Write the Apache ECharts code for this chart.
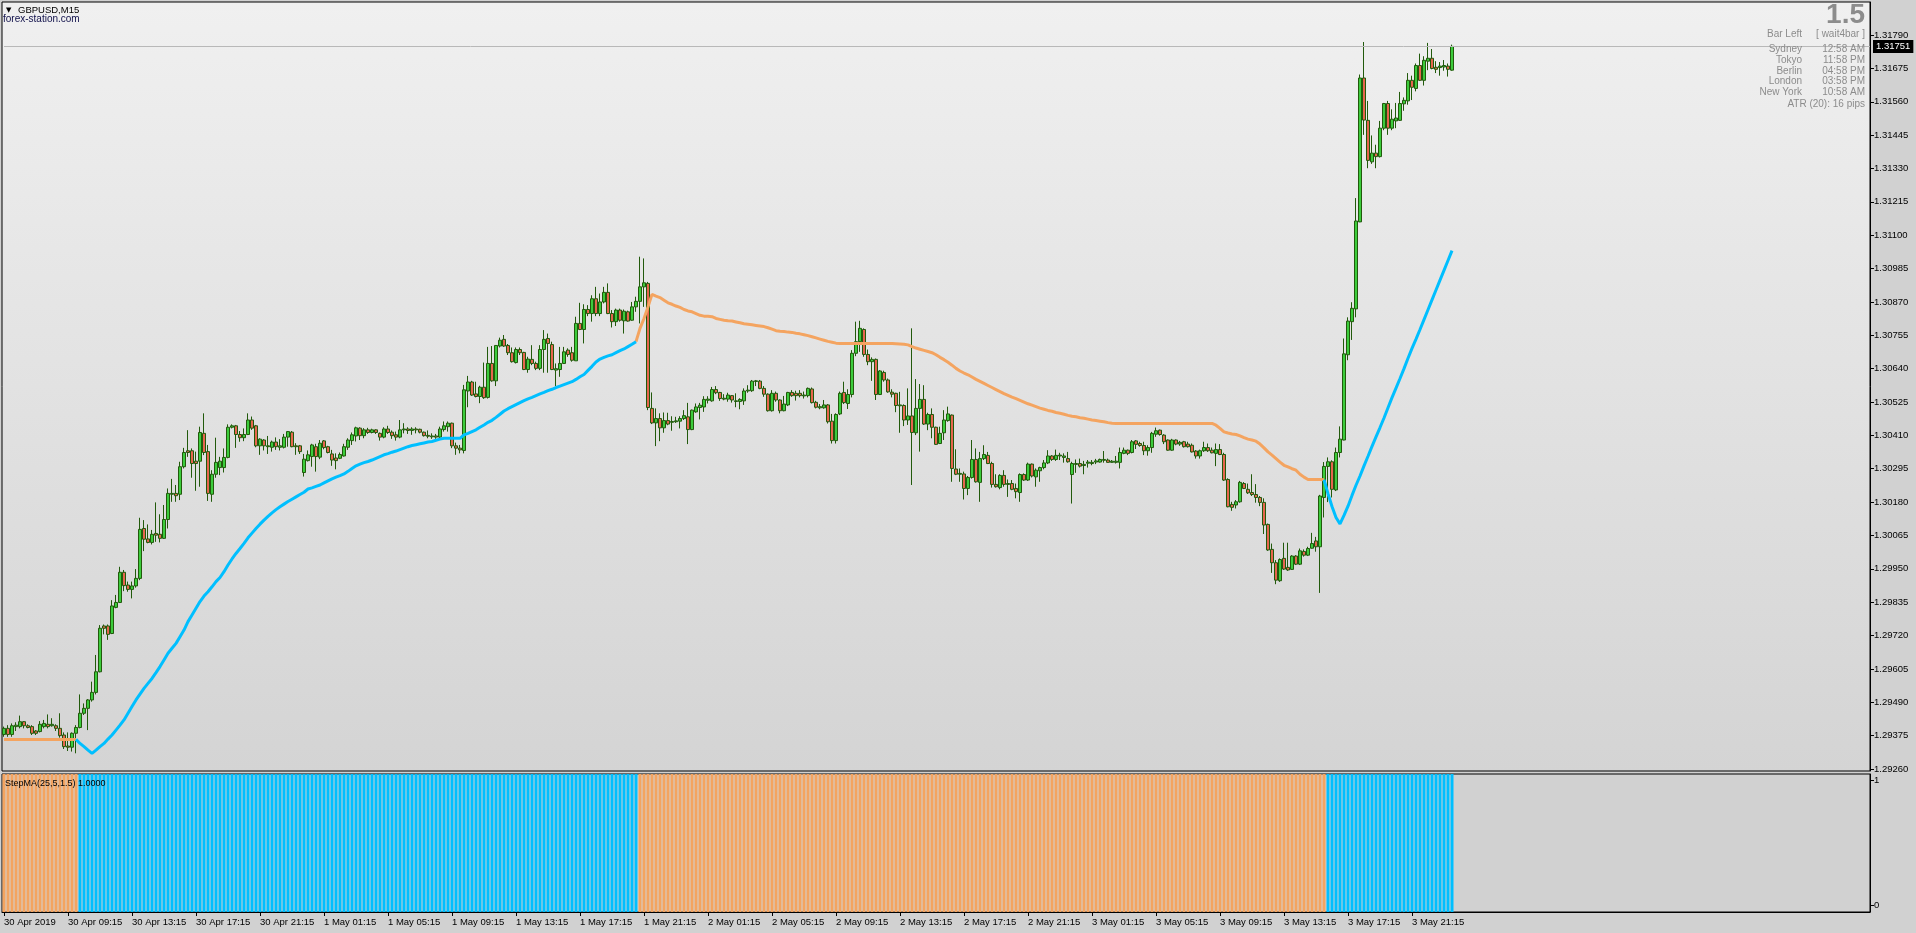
<!DOCTYPE html>
<html>
<head>
<meta charset="utf-8">
<title>GBPUSD,M15</title>
<script src="https://cdn.jsdelivr.net/npm/echarts@6/dist/echarts.min.js"></script>
<style>
    html, body { margin: 0; padding: 0; background: #d1d1d1; }
    #chart { width: 1916px; height: 933px; }
</style>
</head>
<body>
<div id="chart"></div>
<script>
// GBPUSD M15 candles, 30 Apr 05:15 .. 3 May 23:45
var opens = [
    1.29379,1.29400,1.29379,1.29406,1.29406,1.29423,1.29409,1.29406,1.29391,1.29389,
    1.29406,1.29414,1.29409,1.29409,1.29400,1.29377,1.29339,1.29335,1.29383,1.29403,
    1.29452,1.29469,1.29498,1.29524,1.29595,1.29753,1.29753,1.29727,1.29817,1.29834,
    1.29938,1.29894,1.29879,1.29891,1.29917,1.30089,1.30053,1.30041,1.30072,1.30069,
    1.30055,1.30120,1.30207,1.30210,1.30207,1.30302,1.30357,1.30357,1.30321,1.30321,
    1.30417,1.30354,1.30207,1.30276,1.30299,1.30299,1.30334,1.30438,1.30443,1.30413,
    1.30402,1.30413,1.30463,1.30443,1.30374,1.30394,1.30371,1.30369,1.30387,1.30369,
    1.30369,1.30404,1.30421,1.30374,1.30374,1.30282,1.30323,1.30337,1.30371,1.30335,
    1.30391,1.30371,1.30346,1.30332,1.30331,1.30339,1.30369,1.30392,1.30408,1.30435,
    1.30409,1.30429,1.30420,1.30429,1.30417,1.30404,1.30432,1.30421,1.30412,1.30404,
    1.30429,1.30432,1.30427,1.30432,1.30431,1.30421,1.30410,1.30405,1.30408,1.30404,
    1.30430,1.30440,1.30452,1.30374,1.30366,1.30358,1.30563,1.30594,1.30553,1.30544,
    1.30576,1.30541,1.30658,1.30598,1.30718,1.30741,1.30720,1.30695,1.30661,1.30706,
    1.30696,1.30637,1.30672,1.30658,1.30641,1.30706,1.30744,1.30723,1.30635,1.30637,
    1.30658,1.30704,1.30695,1.30667,1.30796,1.30775,1.30844,1.30830,1.30881,1.30830,
    1.30870,1.30903,1.30830,1.30802,1.30842,1.30805,1.30836,1.30807,1.30853,1.30872,
    1.30922,1.30934,1.30503,1.30453,1.30468,1.30436,1.30461,1.30455,1.30457,1.30459,
    1.30468,1.30474,1.30430,1.30491,1.30506,1.30508,1.30531,1.30529,1.30568,1.30558,
    1.30535,1.30535,1.30547,1.30527,1.30527,1.30529,1.30563,1.30564,1.30596,1.30597,
    1.30572,1.30552,1.30495,1.30555,1.30532,1.30495,1.30515,1.30558,1.30555,1.30555,
    1.30546,1.30547,1.30570,1.30524,1.30505,1.30505,1.30515,1.30459,1.30392,1.30484,
    1.30558,1.30520,1.30551,1.30693,1.30733,1.30775,1.30689,1.30664,1.30672,1.30551,
    1.30627,1.30601,1.30559,1.30555,1.30512,1.30513,1.30463,1.30477,1.30419,1.30503,
    1.30534,1.30449,1.30482,1.30438,1.30382,1.30419,1.30461,1.30480,1.30294,1.30276,
    1.30277,1.30227,1.30265,1.30327,1.30248,1.30330,1.30341,1.30313,1.30241,1.30230,
    1.30272,1.30241,1.30244,1.30227,1.30213,1.30275,1.30256,1.30311,1.30267,1.30288,
    1.30299,1.30315,1.30339,1.30327,1.30339,1.30334,1.30330,1.30275,1.30310,1.30313,
    1.30306,1.30314,1.30313,1.30318,1.30318,1.30324,1.30325,1.30317,1.30317,1.30317,
    1.30348,1.30359,1.30351,1.30391,1.30382,1.30375,1.30357,1.30368,1.30414,1.30428,
    1.30411,1.30394,1.30359,1.30394,1.30380,1.30388,1.30380,1.30376,1.30356,1.30339,
    1.30357,1.30368,1.30359,1.30348,1.30361,1.30344,1.30258,1.30172,1.30170,1.30181,
    1.30244,1.30224,1.30213,1.30206,1.30196,1.30179,1.30103,1.30017,1.29971,1.29909,
    1.29986,1.29955,1.29948,1.29994,1.29966,1.30010,1.29997,1.30021,1.30046,1.30026,
    1.30196,1.30303,1.30319,1.30222,1.30351,1.30394,1.30688,1.30802,1.30846,1.31146,
    1.31642,1.31496,1.31353,1.31383,1.31371,1.31469,1.31554,1.31469,1.31494,1.31496,
    1.31553,1.31563,1.31634,1.31606,1.31685,1.31634,1.31700,1.31710,1.31679,1.31678,
    1.31680,1.31683,1.31669
];
var closes = [
    1.29400,1.29379,1.29409,1.29411,1.29423,1.29409,1.29403,1.29383,1.29383,1.29414,
    1.29417,1.29406,1.29414,1.29400,1.29375,1.29337,1.29335,1.29383,1.29403,1.29452,
    1.29469,1.29498,1.29524,1.29595,1.29745,1.29745,1.29724,1.29822,1.29834,1.29938,
    1.29892,1.29879,1.29891,1.29917,1.30086,1.30052,1.30041,1.30069,1.30066,1.30055,
    1.30120,1.30210,1.30210,1.30202,1.30302,1.30351,1.30351,1.30313,1.30313,1.30420,
    1.30351,1.30210,1.30276,1.30317,1.30321,1.30334,1.30438,1.30443,1.30413,1.30402,
    1.30413,1.30463,1.30435,1.30374,1.30397,1.30374,1.30374,1.30387,1.30371,1.30374,
    1.30404,1.30423,1.30371,1.30371,1.30354,1.30328,1.30343,1.30377,1.30337,1.30383,
    1.30368,1.30351,1.30325,1.30323,1.30344,1.30371,1.30394,1.30412,1.30436,1.30409,
    1.30429,1.30420,1.30429,1.30420,1.30404,1.30432,1.30420,1.30409,1.30404,1.30429,
    1.30432,1.30427,1.30432,1.30429,1.30421,1.30409,1.30407,1.30408,1.30404,1.30432,
    1.30443,1.30452,1.30374,1.30366,1.30360,1.30567,1.30594,1.30549,1.30544,1.30576,
    1.30540,1.30658,1.30598,1.30720,1.30738,1.30718,1.30695,1.30664,1.30706,1.30695,
    1.30637,1.30673,1.30658,1.30641,1.30706,1.30741,1.30727,1.30637,1.30640,1.30658,
    1.30698,1.30689,1.30669,1.30796,1.30775,1.30844,1.30830,1.30881,1.30830,1.30870,
    1.30903,1.30830,1.30802,1.30842,1.30807,1.30838,1.30804,1.30853,1.30872,1.30922,
    1.30936,1.30506,1.30453,1.30468,1.30436,1.30461,1.30449,1.30458,1.30460,1.30468,
    1.30478,1.30430,1.30497,1.30508,1.30514,1.30534,1.30535,1.30568,1.30557,1.30537,
    1.30538,1.30549,1.30532,1.30529,1.30534,1.30563,1.30566,1.30597,1.30598,1.30572,
    1.30552,1.30495,1.30555,1.30532,1.30495,1.30518,1.30558,1.30547,1.30547,1.30547,
    1.30549,1.30572,1.30523,1.30507,1.30509,1.30515,1.30457,1.30392,1.30482,1.30555,
    1.30523,1.30551,1.30693,1.30733,1.30779,1.30689,1.30664,1.30672,1.30551,1.30632,
    1.30601,1.30560,1.30552,1.30513,1.30515,1.30463,1.30477,1.30420,1.30503,1.30534,
    1.30449,1.30482,1.30438,1.30379,1.30417,1.30463,1.30484,1.30296,1.30276,1.30279,
    1.30227,1.30265,1.30327,1.30250,1.30330,1.30344,1.30313,1.30241,1.30233,1.30272,
    1.30241,1.30244,1.30224,1.30216,1.30275,1.30256,1.30311,1.30270,1.30290,1.30299,
    1.30315,1.30339,1.30327,1.30341,1.30342,1.30339,1.30319,1.30313,1.30313,1.30304,
    1.30310,1.30318,1.30317,1.30322,1.30327,1.30327,1.30317,1.30321,1.30321,1.30351,
    1.30359,1.30348,1.30388,1.30379,1.30375,1.30357,1.30368,1.30417,1.30426,1.30413,
    1.30388,1.30359,1.30394,1.30380,1.30386,1.30371,1.30371,1.30353,1.30339,1.30357,
    1.30368,1.30357,1.30350,1.30361,1.30344,1.30256,1.30164,1.30162,1.30181,1.30248,
    1.30227,1.30212,1.30206,1.30196,1.30179,1.30101,1.30015,1.29971,1.29911,1.29982,
    1.29949,1.29946,1.29994,1.29966,1.30012,1.29997,1.30020,1.30037,1.30026,1.30201,
    1.30303,1.30319,1.30224,1.30351,1.30397,1.30691,1.30804,1.30848,1.31149,1.31642,
    1.31497,1.31358,1.31383,1.31371,1.31469,1.31554,1.31469,1.31500,1.31504,1.31554,
    1.31565,1.31634,1.31610,1.31685,1.31634,1.31703,1.31710,1.31675,1.31672,1.31683,
    1.31685,1.31672,1.31751
];
var highs = [
    1.29406,1.29411,1.29417,1.29421,1.29444,1.29425,1.29414,1.29411,1.29394,1.29425,
    1.29429,1.29448,1.29435,1.29414,1.29452,1.29386,1.29386,1.29386,1.29411,1.29517,
    1.29486,1.29501,1.29561,1.29653,1.29756,1.29758,1.29758,1.29842,1.29860,1.29957,
    1.29946,1.29906,1.29906,1.29949,1.30126,1.30118,1.30103,1.30084,1.30179,1.30138,
    1.30170,1.30227,1.30260,1.30239,1.30319,1.30367,1.30428,1.30365,1.30354,1.30440,
    1.30486,1.30377,1.30290,1.30402,1.30336,1.30365,1.30448,1.30448,1.30446,1.30425,
    1.30434,1.30486,1.30475,1.30446,1.30400,1.30397,1.30408,1.30392,1.30403,1.30397,
    1.30415,1.30425,1.30425,1.30383,1.30377,1.30346,1.30358,1.30381,1.30381,1.30394,
    1.30394,1.30374,1.30360,1.30348,1.30351,1.30381,1.30400,1.30420,1.30440,1.30438,
    1.30435,1.30436,1.30433,1.30431,1.30420,1.30438,1.30443,1.30427,1.30423,1.30463,
    1.30452,1.30438,1.30438,1.30438,1.30433,1.30423,1.30427,1.30417,1.30415,1.30440,
    1.30458,1.30458,1.30454,1.30385,1.30377,1.30584,1.30615,1.30598,1.30595,1.30581,
    1.30661,1.30715,1.30718,1.30721,1.30747,1.30756,1.30725,1.30713,1.30713,1.30713,
    1.30698,1.30681,1.30721,1.30664,1.30721,1.30773,1.30761,1.30733,1.30658,1.30715,
    1.30715,1.30710,1.30715,1.30819,1.30867,1.30862,1.30859,1.30893,1.30922,1.30899,
    1.30922,1.30934,1.30842,1.30847,1.30847,1.30844,1.30840,1.30870,1.30888,1.31026,
    1.31020,1.30939,1.30558,1.30503,1.30486,1.30489,1.30488,1.30476,1.30474,1.30476,
    1.30497,1.30522,1.30499,1.30520,1.30522,1.30545,1.30545,1.30577,1.30580,1.30560,
    1.30552,1.30557,1.30549,1.30555,1.30538,1.30572,1.30583,1.30601,1.30601,1.30601,
    1.30580,1.30555,1.30566,1.30561,1.30534,1.30546,1.30560,1.30566,1.30564,1.30566,
    1.30561,1.30575,1.30575,1.30529,1.30518,1.30532,1.30518,1.30484,1.30486,1.30561,
    1.30595,1.30569,1.30704,1.30802,1.30805,1.30779,1.30706,1.30679,1.30675,1.30635,
    1.30633,1.30606,1.30569,1.30557,1.30560,1.30517,1.30572,1.30779,1.30604,1.30587,
    1.30583,1.30488,1.30503,1.30440,1.30440,1.30497,1.30509,1.30482,1.30362,1.30296,
    1.30285,1.30270,1.30394,1.30365,1.30353,1.30376,1.30353,1.30319,1.30276,1.30276,
    1.30290,1.30258,1.30256,1.30244,1.30279,1.30279,1.30316,1.30313,1.30296,1.30302,
    1.30325,1.30359,1.30342,1.30361,1.30350,1.30348,1.30353,1.30319,1.30327,1.30330,
    1.30322,1.30325,1.30325,1.30329,1.30330,1.30356,1.30330,1.30325,1.30339,1.30368,
    1.30368,1.30361,1.30394,1.30394,1.30388,1.30388,1.30376,1.30422,1.30437,1.30430,
    1.30414,1.30396,1.30398,1.30396,1.30391,1.30391,1.30388,1.30382,1.30359,1.30361,
    1.30388,1.30382,1.30368,1.30382,1.30380,1.30350,1.30262,1.30181,1.30187,1.30253,
    1.30249,1.30244,1.30276,1.30242,1.30201,1.30193,1.30106,1.30037,1.29980,1.29986,
    1.30040,1.30040,1.29997,1.29997,1.30020,1.30017,1.30026,1.30074,1.30060,1.30205,
    1.30318,1.30334,1.30324,1.30368,1.30441,1.30744,1.30817,1.30869,1.31228,1.31654,
    1.31766,1.31563,1.31444,1.31412,1.31494,1.31556,1.31563,1.31534,1.31556,1.31594,
    1.31575,1.31659,1.31650,1.31692,1.31726,1.31717,1.31763,1.31742,1.31700,1.31697,
    1.31704,1.31692,1.31757
];
var lows = [
    1.29371,1.29371,1.29371,1.29391,1.29400,1.29400,1.29400,1.29377,1.29377,1.29386,
    1.29400,1.29400,1.29406,1.29391,1.29368,1.29329,1.29322,1.29320,1.29314,1.29400,
    1.29446,1.29394,1.29492,1.29517,1.29593,1.29724,1.29705,1.29725,1.29814,1.29832,
    1.29873,1.29871,1.29848,1.29885,1.29911,1.30011,1.30038,1.30034,1.30043,1.30041,
    1.30053,1.30089,1.30181,1.30181,1.30187,1.30296,1.30336,1.30264,1.30219,1.30233,
    1.30342,1.30184,1.30181,1.30264,1.30273,1.30282,1.30331,1.30434,1.30367,1.30388,
    1.30390,1.30411,1.30429,1.30369,1.30343,1.30358,1.30346,1.30354,1.30360,1.30358,
    1.30365,1.30371,1.30369,1.30343,1.30346,1.30268,1.30320,1.30302,1.30285,1.30328,
    1.30362,1.30348,1.30305,1.30293,1.30328,1.30337,1.30360,1.30377,1.30389,1.30394,
    1.30400,1.30415,1.30417,1.30415,1.30392,1.30400,1.30415,1.30398,1.30392,1.30400,
    1.30417,1.30415,1.30412,1.30417,1.30417,1.30406,1.30400,1.30398,1.30398,1.30400,
    1.30423,1.30423,1.30366,1.30343,1.30348,1.30348,1.30507,1.30546,1.30541,1.30521,
    1.30536,1.30537,1.30595,1.30580,1.30713,1.30715,1.30687,1.30661,1.30658,1.30687,
    1.30635,1.30626,1.30652,1.30635,1.30635,1.30626,1.30626,1.30635,1.30580,1.30612,
    1.30656,1.30681,1.30664,1.30667,1.30773,1.30727,1.30821,1.30802,1.30821,1.30821,
    1.30865,1.30828,1.30782,1.30787,1.30802,1.30761,1.30802,1.30805,1.30836,1.30796,
    1.30853,1.30497,1.30449,1.30373,1.30390,1.30419,1.30445,1.30426,1.30453,1.30434,
    1.30463,1.30380,1.30428,1.30488,1.30465,1.30491,1.30520,1.30526,1.30552,1.30529,
    1.30531,1.30526,1.30523,1.30507,1.30500,1.30515,1.30557,1.30560,1.30580,1.30569,
    1.30543,1.30492,1.30492,1.30526,1.30486,1.30493,1.30511,1.30543,1.30530,1.30541,
    1.30537,1.30541,1.30520,1.30503,1.30500,1.30502,1.30451,1.30382,1.30382,1.30480,
    1.30518,1.30501,1.30541,1.30683,1.30698,1.30681,1.30652,1.30598,1.30532,1.30549,
    1.30595,1.30557,1.30541,1.30490,1.30419,1.30442,1.30446,1.30239,1.30411,1.30354,
    1.30446,1.30428,1.30400,1.30377,1.30380,1.30394,1.30457,1.30250,1.30273,1.30250,
    1.30189,1.30204,1.30261,1.30247,1.30181,1.30325,1.30311,1.30230,1.30230,1.30224,
    1.30233,1.30198,1.30221,1.30193,1.30181,1.30253,1.30253,1.30265,1.30233,1.30250,
    1.30293,1.30311,1.30322,1.30322,1.30325,1.30316,1.30316,1.30175,1.30281,1.30299,
    1.30276,1.30299,1.30307,1.30311,1.30316,1.30316,1.30316,1.30316,1.30313,1.30296,
    1.30345,1.30342,1.30348,1.30363,1.30371,1.30342,1.30340,1.30350,1.30405,1.30409,
    1.30380,1.30357,1.30357,1.30376,1.30374,1.30368,1.30368,1.30351,1.30330,1.30330,
    1.30353,1.30353,1.30348,1.30304,1.30342,1.30253,1.30162,1.30150,1.30158,1.30178,
    1.30225,1.30208,1.30201,1.30178,1.30166,1.30070,1.30012,1.29936,1.29897,1.29905,
    1.29946,1.29943,1.29946,1.29963,1.29963,1.29992,1.29994,1.30020,1.30009,1.29867,
    1.30127,1.30180,1.30196,1.30218,1.30334,1.30393,1.30669,1.30739,1.30817,1.31145,
    1.31446,1.31331,1.31346,1.31331,1.31368,1.31462,1.31446,1.31462,1.31469,1.31494,
    1.31529,1.31550,1.31566,1.31596,1.31632,1.31616,1.31669,1.31672,1.31659,1.31650,
    1.31667,1.31647,1.31667
];
// StepMA(25,5,1.5) line value per bar
var stepMA = [
    1.29362,1.29362,1.29362,1.29362,1.29362,1.29362,1.29362,1.29362,1.29362,1.29362,
    1.29362,1.29362,1.29362,1.29362,1.29362,1.29362,1.29362,1.29362,1.29362,1.29348,
    1.29337,1.29325,1.29314,1.29325,1.29337,1.29348,1.29363,1.29377,1.29394,1.29411,
    1.29429,1.29452,1.29475,1.29498,1.29518,1.29538,1.29555,1.29572,1.29592,1.29613,
    1.29636,1.29659,1.29676,1.29693,1.29716,1.29739,1.29768,1.29791,1.29814,1.29837,
    1.29856,1.29871,1.29888,1.29906,1.29920,1.29940,1.29963,1.29984,1.30003,1.30020,
    1.30038,1.30057,1.30073,1.30089,1.30104,1.30118,1.30131,1.30143,1.30154,1.30164,
    1.30173,1.30182,1.30190,1.30198,1.30206,1.30214,1.30225,1.30229,1.30234,1.30239,
    1.30246,1.30253,1.30260,1.30266,1.30271,1.30277,1.30286,1.30296,1.30305,1.30311,
    1.30316,1.30320,1.30325,1.30331,1.30337,1.30343,1.30347,1.30352,1.30356,1.30361,
    1.30366,1.30371,1.30375,1.30378,1.30381,1.30384,1.30387,1.30389,1.30393,1.30397,
    1.30400,1.30400,1.30400,1.30400,1.30400,1.30412,1.30417,1.30423,1.30429,1.30438,
    1.30446,1.30455,1.30462,1.30472,1.30483,1.30494,1.30502,1.30509,1.30516,1.30523,
    1.30530,1.30536,1.30541,1.30547,1.30553,1.30558,1.30564,1.30569,1.30575,1.30580,
    1.30585,1.30590,1.30595,1.30603,1.30612,1.30620,1.30634,1.30648,1.30663,1.30673,
    1.30679,1.30684,1.30688,1.30695,1.30702,1.30708,1.30716,1.30724,1.30733,1.30779,
    1.30813,1.30853,1.30896,1.30890,1.30885,1.30876,1.30867,1.30862,1.30856,1.30851,
    1.30844,1.30839,1.30836,1.30830,1.30824,1.30821,1.30821,1.30819,1.30813,1.30810,
    1.30807,1.30805,1.30804,1.30801,1.30798,1.30795,1.30793,1.30791,1.30789,1.30787,
    1.30785,1.30781,1.30776,1.30771,1.30769,1.30768,1.30766,1.30765,1.30762,1.30760,
    1.30757,1.30754,1.30750,1.30746,1.30742,1.30738,1.30734,1.30731,1.30728,1.30727,
    1.30727,1.30727,1.30727,1.30727,1.30727,1.30727,1.30727,1.30727,1.30727,1.30727,
    1.30727,1.30727,1.30727,1.30726,1.30725,1.30724,1.30722,1.30716,1.30711,1.30707,
    1.30703,1.30699,1.30695,1.30688,1.30679,1.30671,1.30662,1.30652,1.30641,1.30632,
    1.30625,1.30619,1.30611,1.30603,1.30596,1.30589,1.30582,1.30575,1.30568,1.30561,
    1.30554,1.30548,1.30542,1.30537,1.30531,1.30525,1.30519,1.30514,1.30509,1.30504,
    1.30500,1.30496,1.30493,1.30489,1.30486,1.30483,1.30479,1.30476,1.30474,1.30471,
    1.30469,1.30466,1.30463,1.30461,1.30459,1.30457,1.30454,1.30452,1.30451,1.30451,
    1.30451,1.30451,1.30451,1.30451,1.30451,1.30451,1.30451,1.30451,1.30451,1.30451,
    1.30451,1.30451,1.30451,1.30451,1.30451,1.30451,1.30451,1.30451,1.30451,1.30451,
    1.30451,1.30451,1.30451,1.30445,1.30434,1.30422,1.30418,1.30415,1.30413,1.30408,
    1.30402,1.30397,1.30394,1.30390,1.30380,1.30367,1.30353,1.30342,1.30330,1.30318,
    1.30307,1.30301,1.30295,1.30290,1.30276,1.30266,1.30258,1.30258,1.30258,1.30258,
    1.30257,1.30209,1.30165,1.30127,1.30105,1.30134,1.30166,1.30203,1.30238,1.30270,
    1.30305,1.30338,1.30372,1.30405,1.30437,1.30470,1.30505,1.30540,1.30573,1.30606,
    1.30640,1.30676,1.30710,1.30742,1.30775,1.30809,1.30843,1.30877,1.30911,1.30945,
    1.30979,1.31013,1.31047
];
// StepMA trend state, run lengths (dn = orange, up = blue); histogram value is 1 each bar
var trendRuns = [['dn', 19], ['up', 140], ['dn', 172], ['up', 32]];
var yTicks = [1.31790, 1.31675, 1.31560, 1.31445, 1.31330, 1.31215, 1.31100, 1.30985, 1.30870, 1.30755,
    1.30640, 1.30525, 1.30410, 1.30295, 1.30180, 1.30065, 1.29950, 1.29835, 1.29720, 1.29605,
    1.29490, 1.29375, 1.29260];
var lastPrice = 1.31751;
var infoNames = ['Bar Left', 'Sydney', 'Tokyo', 'Berlin', 'London', 'New York'];
var infoValues = ['[ wait4bar ]', '12:58 AM', '11:58 PM', '04:58 PM', '03:58 PM', '10:58 AM'];

var barCount = closes.length;
[opens, highs, lows, stepMA].forEach(function (a) {
    if (a.length !== barCount) throw new Error('array length ' + a.length + ' != ' + barCount);
});

var slotCount = 467;   // bars + empty space on the right
var months = ['Jan','Feb','Mar','Apr','May','Jun','Jul','Aug','Sep','Oct','Nov','Dec'];
var startTime = Date.UTC(2019, 3, 30, 5, 15);
function pad(n) { return n < 10 ? '0' + n : '' + n; }
var cats = [];
for (var i = 0; i < slotCount; i++) {
    var d = new Date(startTime + i * 15 * 60000);
    cats.push(d.getUTCDate() + ' ' + months[d.getUTCMonth()] + ' ' + pad(d.getUTCHours()) + ':' + pad(d.getUTCMinutes()));
}

var trend = [];
trendRuns.forEach(function (r) { for (var k = 0; k < r[1]; k++) trend.push(r[0]); });

var candles = [], maUp = [], maDn = [], hist = [];
for (var i = 0; i < barCount; i++) {
    candles.push([opens[i], closes[i], lows[i], highs[i]]);
    var up = trend[i] === 'up' || trend[i + 1] === 'up';
    var dn = trend[i] === 'dn' || trend[i + 1] === 'dn';
    maUp.push(up ? stepMA[i] : null);
    maDn.push(dn ? stepMA[i] : null);
    hist.push({ value: 1, itemStyle: { color: trend[i] === 'up' ? '#00bfff' : '#f4a460' } });
}

var FONT = 'Liberation Sans, Arial, sans-serif';
var showLabel = function (idx) { return idx % 16 === 0 && idx < barCount; };

var chart = echarts.init(document.getElementById('chart'));
var option = {
    animation: false,
    backgroundColor: '#d1d1d1',
    textStyle: { fontFamily: FONT },
    grid: [
        {
            left: 2, top: 2, right: 46, height: 769, outerBoundsMode: 'none',
            show: true, borderColor: '#000', borderWidth: 1,
            backgroundColor: new echarts.graphic.LinearGradient(0, 0, 0, 1, [
                { offset: 0, color: '#f0f0f0' },
                { offset: 1, color: '#d4d4d4' }
            ])
        },
        {
            left: 2, top: 774, right: 46, height: 138, outerBoundsMode: 'none',
            show: true, borderColor: '#000', borderWidth: 1, backgroundColor: '#d1d1d1'
        }
    ],
    xAxis: [
        {
            type: 'category', gridIndex: 0, data: cats, boundaryGap: true,
            axisLine: { show: false }, axisTick: { show: false }, axisLabel: { show: false },
            splitLine: { show: false }
        },
        {
            type: 'category', gridIndex: 1, data: cats, boundaryGap: true, position: 'bottom',
            axisLine: { show: true, lineStyle: { color: '#000', width: 1 } },
            axisTick: { show: true, interval: showLabel, alignWithLabel: true, length: 4, lineStyle: { color: '#000' } },
            axisLabel: {
                interval: showLabel, align: 'left', margin: 5, color: '#000', fontSize: 9.5,
                fontFamily: FONT, hideOverlap: false,
                formatter: function (v, idx) { return idx === 0 ? '30 Apr 2019' : v; }
            },
            splitLine: { show: false }
        }
    ],
    yAxis: [
        {
            type: 'value', gridIndex: 0, position: 'right', min: 1.29253, max: 1.31904,
            axisLine: { show: true, lineStyle: { color: '#000', width: 1 } },
            axisTick: { show: true, length: 4, lineStyle: { color: '#000' }, customValues: yTicks },
            axisLabel: {
                color: '#000', fontSize: 9.5, fontFamily: FONT, margin: 4, customValues: yTicks,
                formatter: function (v) { return v.toFixed(5); }
            },
            splitLine: { show: false }
        },
        {
            type: 'value', gridIndex: 1, min: 0, max: 1, show: false, splitLine: { show: false }
        },
        {
            type: 'value', gridIndex: 1, position: 'right', min: -0.05, max: 1.05,
            axisLine: { show: true, lineStyle: { color: '#000', width: 1 } },
            axisTick: { show: true, length: 4, lineStyle: { color: '#000' }, customValues: [0, 1] },
            axisLabel: {
                color: '#000', fontSize: 9.5, fontFamily: FONT, margin: 4, customValues: [0, 1],
                formatter: function (v) { return String(Math.round(v)); }
            },
            splitLine: { show: false }
        }
    ],
    series: [
        {
            name: 'GBPUSD', type: 'candlestick', xAxisIndex: 0, yAxisIndex: 0,
            data: candles, barWidth: 3,
            itemStyle: {
                color: '#3ccc3c', color0: '#e6664e',
                borderColor: '#225a0c', borderColor0: '#225a0c', borderWidth: 1
            }
        },
        {
            name: 'StepMA dn', type: 'line', xAxisIndex: 0, yAxisIndex: 0, data: maDn,
            symbol: 'none', connectNulls: false,
            lineStyle: { color: '#f4a460', width: 3 }
        },
        {
            name: 'StepMA up', type: 'line', xAxisIndex: 0, yAxisIndex: 0, data: maUp,
            symbol: 'none', connectNulls: false,
            lineStyle: { color: '#00bfff', width: 3 }
        },
        {
            // bid line across the price pane
            name: 'Bid', type: 'line', xAxisIndex: 0, yAxisIndex: 0, data: [],
            symbol: 'none', silent: true,
            markLine: {
                silent: true, symbol: ['none', 'none'], clip: false, animation: false,
                lineStyle: { color: '#b8b8b8', width: 1, type: 'solid' },
                label: {
                    show: true, position: 'end', distance: 3,
                    formatter: function () { return lastPrice.toFixed(5); },
                    color: '#fff', backgroundColor: '#000',
                    padding: [2, 3, 1, 3], fontSize: 9.5, fontFamily: FONT
                },
                data: [[
                    { coord: [0, lastPrice] },
                    { coord: [slotCount - 1, lastPrice], x: 1870 }
                ]]
            }
        },
        {
            name: 'StepMA hist', type: 'bar', xAxisIndex: 1, yAxisIndex: 1, data: hist,
            barWidth: 3
        }
    ],
    graphic: [
        { type: 'text', z: 100, left: 6, top: 7, style: { text: '\u25BC', font: '7px DejaVu Sans', fill: '#000' } },
        { type: 'text', z: 100, left: 18, top: 5, style: { text: 'GBPUSD,M15', font: '9.5px ' + FONT, fill: '#000' } },
        { type: 'text', z: 100, left: 3, top: 14, style: { text: 'forex-station.com', font: '10px ' + FONT, fill: '#10104a' } },
        { type: 'text', z: 100, left: 5, top: 779, style: { text: 'StepMA(25,5,1.5) 1.0000', font: '9px ' + FONT, fill: '#000' } },
        { type: 'text', z: 100, right: 51, top: 1, style: { text: '1.5', font: 'bold 28px ' + FONT, fill: '#8c8c8c' } }
    ]
};

var rowY = [29, 44, 55, 66, 76, 87];
infoNames.forEach(function (n, k) {
    option.graphic.push({ type: 'text', z: 100, right: 114, top: rowY[k], style: { text: n, font: '10px ' + FONT, fill: '#8c8c8c' } });
    option.graphic.push({ type: 'text', z: 100, right: 51, top: rowY[k], style: { text: infoValues[k], font: '10px ' + FONT, fill: '#8c8c8c' } });
});
option.graphic.push({ type: 'text', z: 100, right: 51, top: 99, style: { text: 'ATR (20): 16 pips', font: '10px ' + FONT, fill: '#8c8c8c' } });

chart.setOption(option);
</script>
</body>
</html>
